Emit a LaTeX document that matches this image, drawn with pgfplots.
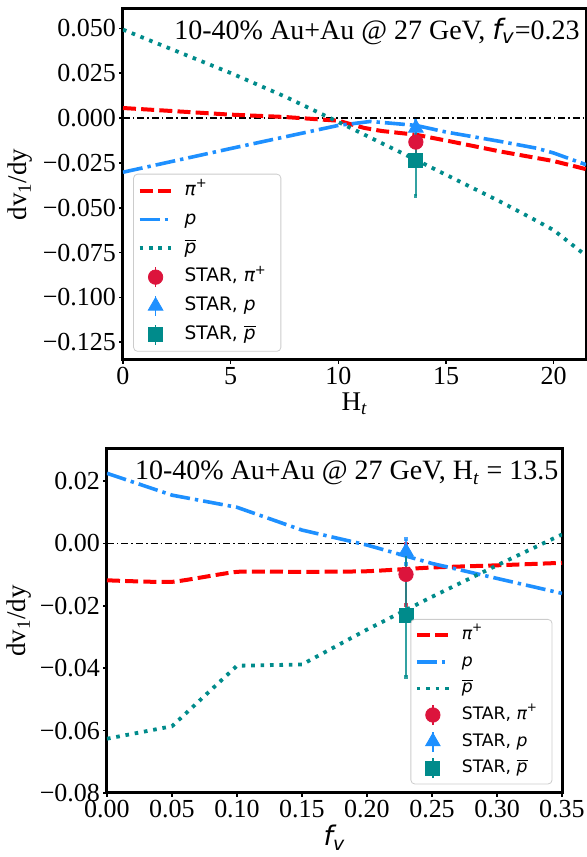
\documentclass[border=0pt]{standalone}
\usepackage{pgfplots}
\pgfplotsset{compat=1.18}
\usepackage{fontspec}
\setmainfont{Liberation Serif}
\newfontfamily\dejavu{DejaVu Sans}

\definecolor{dodger}{HTML}{1E90FF}
\definecolor{dcyan}{HTML}{008B8B}
\definecolor{crimson}{HTML}{DC143C}

\pgfplotsset{
  panel/.style={
    scale only axis,
    axis line style={line width=1.5pt},
    tick style={black, line width=0.8pt},
    major tick length=1.8pt,
    tick align=outside,
    xtick pos=lower, ytick pos=left,
    scaled ticks=false,
    ticklabel style={font=\fontsize{13}{13}\selectfont, inner sep=1.5pt},
    label style={font=\fontsize{13.5}{14}\selectfont},
    legend cell align=left,
    legend style={draw=black!20, rounded corners=2pt, fill=white,
      font=\dejavu\fontsize{9.3}{10}\selectfont,
      inner xsep=2pt, inner ysep=1.5pt, row sep=0.8pt,
      nodes={inner xsep=5pt, inner ysep=2pt, text height=7.2pt, text depth=2.4pt}},
  },
  pion/.style={red, line width=2pt, dash pattern=on 6.5pt off 2.6pt},
  prot/.style={dodger, line width=1.8pt, dash pattern=on 10pt off 2.5pt on 1.7pt off 2.5pt},
  apro/.style={dcyan, line width=1.9pt, dash pattern=on 1.8pt off 2.9pt},
  zline/.style={black, line width=0.75pt, dash pattern=on 3.5pt off 1.5pt on 0.75pt off 1.5pt},
  lineleg/.style={legend image code/.code={\draw[##1] (0pt,0pt) -- (16.5pt,0pt);}},
  star/.style={only marks, #1, mark options={solid, fill=#1, draw=#1},
    error bars/y dir=both, error bars/y explicit,
    error bars/error bar style={#1, line width=0.75pt, opacity=0.8},
    error bars/error mark options={#1, mark size=1pt, line width=1.5pt}},
  starleg/.style={legend image code/.code={
    \draw[#1, line width=0.9pt] (8pt,-5pt) -- (8pt,5pt);
    \draw[##1] plot coordinates {(8pt,0pt)};}},
}

\begin{document}
\begin{tikzpicture}

% upper panel: scan in H_t
\begin{axis}[panel,
  at={(61.5pt,248.5pt)}, anchor=south west,
  width=231.5pt, height=175.5pt,
  xmin=0, xmax=21.5, ymin=-0.1349, ymax=0.0608,
  xtick={0,5,10,15,20}, xticklabels={0,5,10,15,20},
  ytick={-0.125,-0.1,-0.075,-0.05,-0.025,0,0.025,0.05},
  yticklabels={−0.125,−0.100,−0.075,−0.050,−0.025,0.000,0.025,0.050},
  xlabel={H\textsubscript{\itshape t}},
  ylabel={dv\textsubscript{1}/dy},
  xlabel style={at={(rel axis cs:0.5,-0.125)}, anchor=center},
  ylabel style={at={(rel axis cs:-0.222,0.5)}, anchor=center, rotate=0},
  legend style={at={(0.022,0.0235)}, anchor=south west},
]
\addplot[zline, forget plot] coordinates {(0,0) (21.5,0)};
\addplot[pion, lineleg] coordinates {
  (0,0.0056) (5,0.0019) (7.5,0.0006) (10,-0.0015) (11.2,-0.0055)
  (12,-0.0072) (13.6,-0.0093) (15.2,-0.013) (17.5,-0.0186) (20,-0.024) (21.5,-0.0285)};
\addlegendentry{{\itshape π}\textsuperscript{+}}
\addplot[prot, lineleg] coordinates {
  (0,-0.0302) (5,-0.0170) (10,-0.0041) (11.5,-0.0019) (13.6,-0.0041)
  (15,-0.0078) (17.5,-0.013) (19.2,-0.0168) (20,-0.0195) (21.5,-0.026)};
\addlegendentry{{\itshape p}}
\addplot[apro, lineleg] coordinates {
  (0,0.0493) (5,0.0251) (7.5,0.0121) (10,-0.0022) (13.6,-0.0233)
  (17.5,-0.0465) (19,-0.0560) (20,-0.0625) (21.5,-0.0767)};
\addlegendentry{\(\overline{\mbox{\itshape p}}\)}
\addplot[mark=*, mark size=3.6pt, star=crimson, starleg=crimson] coordinates {(13.6,-0.0134) +- (0,0.0097)};
\addlegendentry{STAR, {\itshape π}\textsuperscript{+}}
\addplot[mark=triangle*, mark size=4.2pt, star=dodger, starleg=dodger] coordinates {(13.6,-0.0055) +- (0,0.0039)};
\addlegendentry{STAR, {\itshape p}}
\addplot[mark=square*, mark size=3.5pt, star=dcyan, starleg=dcyan] coordinates {(13.6,-0.0234) +- (0,0.0198)};
\addlegendentry{STAR, \(\overline{\mbox{\itshape p}}\)}
\node[anchor=north east, inner sep=0pt, font=\fontsize{14}{14}\selectfont]
  at (rel axis cs:0.987,0.975)
  {10-40\% Au+Au @ 27 GeV, {\dejavu\itshape f}\textsubscript{\dejavu\itshape v}=0.23};
\end{axis}

% lower panel: scan in f_v
\begin{axis}[panel,
  at={(53.5pt,32pt)}, anchor=south west,
  width=227.5pt, height=172pt,
  xmin=0, xmax=0.35, ymin=-0.08, ymax=0.0303,
  xtick={0,0.05,0.1,0.15,0.2,0.25,0.3,0.35},
  xticklabels={0.00,0.05,0.10,0.15,0.20,0.25,0.30,0.35},
  ytick={-0.08,-0.06,-0.04,-0.02,0,0.02},
  yticklabels={−0.08,−0.06,−0.04,−0.02,0.00,0.02},
  xlabel={{\dejavu\itshape f}\textsubscript{\dejavu\itshape v}},
  ylabel={dv\textsubscript{1}/dy},
  xlabel style={at={(rel axis cs:0.5,-0.13)}, anchor=center},
  ylabel style={at={(rel axis cs:-0.193,0.5)}, anchor=center, rotate=0},
  legend style={at={(0.979,0.025)}, anchor=south east,
    font=\dejavu\fontsize{8.6}{9.5}\selectfont, row sep=0.5pt,
    nodes={inner xsep=5pt, inner ysep=2pt, text height=6.6pt, text depth=2.2pt}},
]
\addplot[zline, forget plot] coordinates {(0,0) (0.35,0)};
\addplot[pion, lineleg, smooth, tension=0.3] coordinates {
  (0,-0.0118) (0.05,-0.0123) (0.10,-0.0091) (0.15,-0.0091) (0.20,-0.0089)
  (0.25,-0.0077) (0.30,-0.0070) (0.35,-0.0062)};
\addlegendentry{{\itshape π}\textsuperscript{+}}
\addplot[prot, lineleg] coordinates {
  (0,0.0225) (0.05,0.0155) (0.10,0.0116) (0.15,0.0043) (0.20,-0.0005)
  (0.25,-0.0064) (0.30,-0.0112) (0.35,-0.0160)};
\addlegendentry{{\itshape p}}
\addplot[apro, lineleg] coordinates {
  (0,-0.0626) (0.05,-0.0586) (0.10,-0.0392) (0.15,-0.0388) (0.20,-0.0276)
  (0.25,-0.0171) (0.30,-0.0070) (0.35,0.0029)};
\addlegendentry{\(\overline{\mbox{\itshape p}}\)}
\addplot[mark=*, mark size=3.6pt, star=crimson, starleg=crimson] coordinates {(0.23,-0.0099) +- (0,0.0097)};
\addlegendentry{STAR, {\itshape π}\textsuperscript{+}}
\addplot[mark=triangle*, mark size=4.2pt, star=dodger, starleg=dodger] coordinates {(0.23,-0.0026) +- (0,0.0039)};
\addlegendentry{STAR, {\itshape p}}
\addplot[mark=square*, mark size=3.5pt, star=dcyan, starleg=dcyan] coordinates {(0.23,-0.0230) +- (0,0.0198)};
\addlegendentry{STAR, \(\overline{\mbox{\itshape p}}\)}
\node[anchor=north east, inner sep=0pt, font=\fontsize{14}{14}\selectfont]
  at (rel axis cs:0.993,0.966)
  {10-40\% Au+Au @ 27 GeV, H\textsubscript{\itshape t} = 13.5};
\end{axis}

\pgfresetboundingbox
\useasboundingbox (0,0) rectangle (293pt,428.5pt);
\end{tikzpicture}
\end{document}
